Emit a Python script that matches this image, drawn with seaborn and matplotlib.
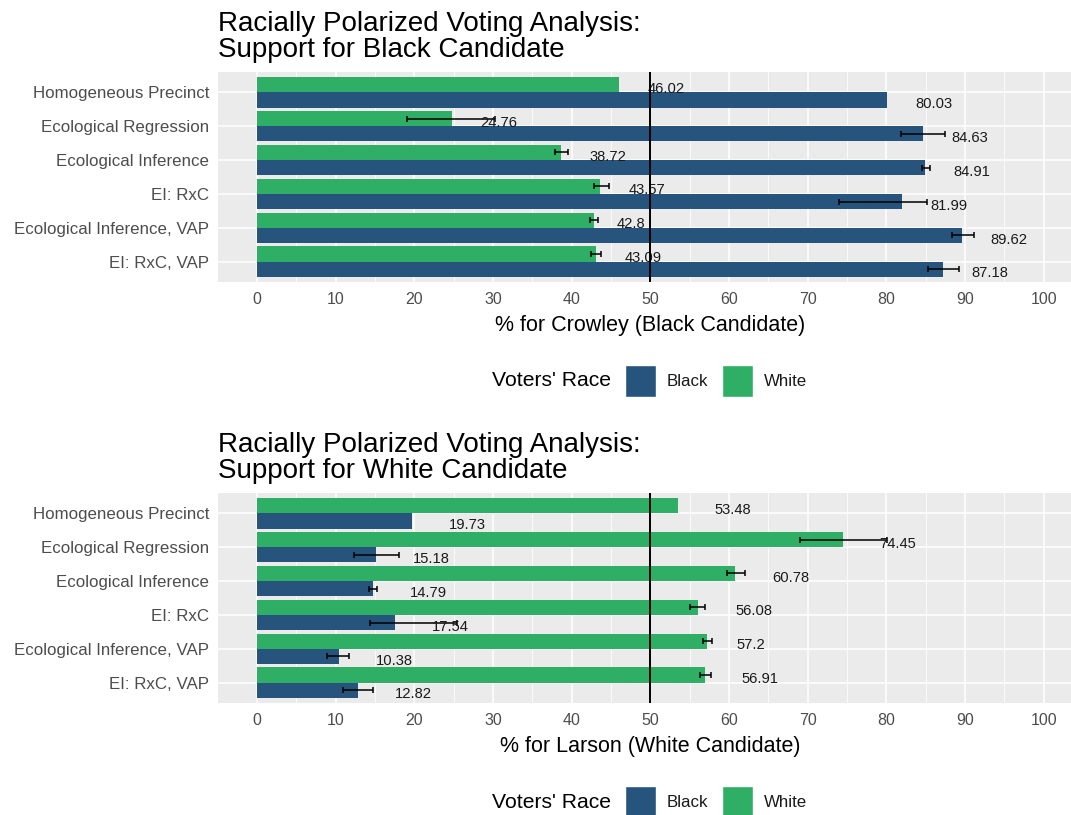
"""
Racially polarized voting analysis - two stacked dodged bar charts
"""

import numpy as np
import pandas as pd
import matplotlib
matplotlib.use("Agg")
import matplotlib.pyplot as plt
from matplotlib.patches import Patch
import seaborn as sns

# Data
methods = [
    "Homogeneous Precinct",
    "Ecological Regression",
    "Ecological Inference",
    "EI: RxC",
    "Ecological Inference, VAP",
    "EI: RxC, VAP",
]

# Crowley (Black candidate)
crowley_black = [80.03, 84.63, 84.91, 81.99, 89.62, 87.18]
crowley_white = [46.02, 24.76, 38.72, 43.57, 42.8, 43.09]
crowley_black_lo = [np.nan, 81.9, 84.6, 74.0, 88.4, 85.3]
crowley_black_hi = [np.nan, 87.5, 85.5, 85.2, 91.1, 89.2]
crowley_white_lo = [np.nan, 19.1, 37.9, 42.8, 42.3, 42.5]
crowley_white_hi = [np.nan, 30.3, 39.6, 44.8, 43.4, 43.8]

# Larson (White candidate)
larson_black = [19.73, 15.18, 14.79, 17.54, 10.38, 12.82]
larson_white = [53.48, 74.45, 60.78, 56.08, 57.2, 56.91]
larson_black_lo = [np.nan, 12.3, 14.2, 14.4, 8.9, 10.9]
larson_black_hi = [np.nan, 18.1, 15.3, 25.5, 11.7, 14.8]
larson_white_lo = [np.nan, 69.0, 59.8, 55.0, 56.7, 56.3]
larson_white_hi = [np.nan, 80.1, 62.0, 56.9, 57.8, 57.7]

x_ticks = list(range(0, 101, 10))

BLUE = "#26547C"
GREEN = "#2FAE66"
palette = {"Black": BLUE, "White": GREEN}

W, H = 1071, 815


def long_frame(black, white, black_lo, black_hi, white_lo, white_hi):
    rows = []
    for i, m in enumerate(methods):
        rows.append((m, "Black", black[i], black_lo[i], black_hi[i]))
        rows.append((m, "White", white[i], white_lo[i], white_hi[i]))
    return pd.DataFrame(rows, columns=["method", "race", "pct", "lo", "hi"])


def draw_panel(ax, df, title, xlabel, hjust):
    sns.barplot(data=df, x="pct", y="method", hue="race", hue_order=["White", "Black"],
                palette=palette, orient="h", width=0.9, saturation=1, errorbar=None,
                legend=False, ax=ax, zorder=2, linewidth=0, edgecolor="none")

    # error bars + value labels from the bar geometry
    for race, cont in zip(["White", "Black"], ax.containers):
        sub = df[df["race"] == race].set_index("method").loc[methods]
        for bar, (m, row) in zip(cont.patches, sub.iterrows()):
            yc = bar.get_y() + bar.get_height() / 2
            if not np.isnan(row["lo"]):
                ax.errorbar(x=(row["lo"] + row["hi"]) / 2, y=yc,
                            xerr=(row["hi"] - row["lo"]) / 2, fmt="none",
                            ecolor="black", elinewidth=1.1, capsize=2.5,
                            capthick=1.1, zorder=3)
            label = f"{row['pct']:g}"
            dx = hjust * 7.4 * len(label) * 0.72
            ax.annotate(label, xy=(row["pct"], yc), xytext=(dx, -3),
                        textcoords="offset points", ha="left", va="center",
                        fontsize=10.6, color="#1A1A1A", zorder=4)

    ax.axvline(50, color="black", lw=1.4, zorder=5)

    ax.set_xlim(-5, 105)
    ax.set_ylim(5.6, -0.6)
    ax.set_xticks(x_ticks)
    ax.set_xticks(np.arange(5, 100, 10), minor=True)
    ax.grid(which="major", axis="both", color="white", lw=1.1, zorder=0)
    ax.grid(which="minor", axis="x", color="white", lw=0.55, zorder=0)
    ax.set_axisbelow(True)
    for s in ax.spines.values():
        s.set_visible(False)

    ax.tick_params(axis="both", which="major", length=4, width=1.0,
                   color="#333333", labelcolor="#4D4D4D")
    ax.tick_params(axis="y", labelsize=12.2, pad=2)
    ax.tick_params(axis="x", labelsize=11.5, pad=3)
    ax.tick_params(which="minor", length=0)

    ax.set_ylabel("")
    ax.set_xlabel(xlabel, fontsize=15.5, color="black", labelpad=6)
    ax.set_title(title, loc="left", fontsize=20, pad=11, linespacing=1.0, color="black")


def draw_legend(fig, y_px):
    fig.text(492 / W, 1 - y_px / H, "Voters' Race", ha="left", va="center",
             fontsize=15.2, color="black")
    handles = [Patch(facecolor=BLUE, label="Black"), Patch(facecolor=GREEN, label="White")]
    fig.legend(handles=handles, loc="center left", bbox_to_anchor=(625 / W, 1 - y_px / H),
               ncol=2, frameon=False, borderpad=0, borderaxespad=0, fontsize=12.2,
               handlelength=1.83, handleheight=2.6, handletextpad=0.65,
               columnspacing=0.77, labelcolor="#1A1A1A")


def main():
    sns.set_theme(style="darkgrid", rc={"axes.facecolor": "#EBEBEB"})
    plt.rcParams["font.family"] = ["Liberation Sans", "DejaVu Sans"]

    fig = plt.figure(figsize=(W / 100, H / 100), dpi=100)
    left = 217.5 / W
    width = (1083 - 217.5) / W
    height = 210 / H
    ax_top = fig.add_axes([left, 1 - 282 / H, width, height])
    ax_bot = fig.add_axes([left, 1 - 703 / H, width, height])

    df_c = long_frame(crowley_black, crowley_white, crowley_black_lo,
                      crowley_black_hi, crowley_white_lo, crowley_white_hi)
    df_l = long_frame(larson_black, larson_white, larson_black_lo,
                      larson_black_hi, larson_white_lo, larson_white_hi)

    draw_panel(ax_top, df_c, "Racially Polarized Voting Analysis:\nSupport for Black Candidate",
               "% for Crowley (Black Candidate)", 0.77)
    draw_panel(ax_bot, df_l, "Racially Polarized Voting Analysis:\nSupport for White Candidate",
               "% for Larson (White Candidate)", 1.0)

    draw_legend(fig, 381)
    draw_legend(fig, 802)

    fig.savefig("out.png", dpi=100)


if __name__ == "__main__":
    main()
